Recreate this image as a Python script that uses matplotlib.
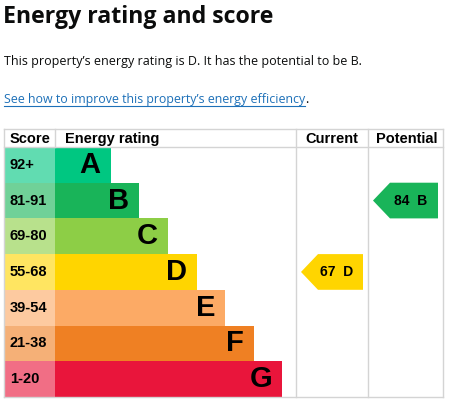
import matplotlib
matplotlib.use("Agg")
import matplotlib.pyplot as plt
from matplotlib.patches import Polygon
from matplotlib.colors import to_rgb

bands = ["A", "B", "C", "D", "E", "F", "G"]
score_labels = ["92+", "81-91", "69-80", "55-68", "39-54", "21-38", "1-20"]
band_low = [92, 81, 69, 55, 39, 21, 1]
band_colors = ["#00c781", "#19b459", "#8dce46", "#ffd500",
               "#fcaa65", "#ef8023", "#e9153b"]
headers = ["Score", "Energy rating", "Current", "Potential"]
current_score = 67
potential_score = 84

title = "Energy rating and score"
summary = "This property\u2019s energy rating is D. It has the potential to be B."
link_text = "See how to improve this property\u2019s energy efficiency"

W, H = 449, 405
table_left, table_right = 4, 443
table_top, header_bottom = 129, 147
row_h = 35.7
score_right = 55
current_left, potential_left = 296, 368
bar_min, bar_step = 55.7, 28.6
grid = "#d4d4d4"
table_font = "Liberation Sans"
text_font = "Open Sans"


def tint(c, a=0.62):
    r, g, b = to_rgb(c)
    return (1 - a + a * r, 1 - a + a * g, 1 - a + a * b)


def band_of(score):
    for i, lo in enumerate(band_low):
        if score >= lo:
            return i
    return len(bands) - 1


def arrow(ax, col_left, col_right, score):
    i = band_of(score)
    top = header_bottom + i * row_h
    bot = top + row_h
    yc = top + row_h / 2
    tip = col_left + 5
    right = col_right - 5
    pts = [(tip, yc), (tip + 17, top), (right, top), (right, bot), (tip + 17, bot)]
    ax.add_patch(Polygon(pts, closed=True, color=band_colors[i], lw=0))
    ax.text((tip + right) / 2 + 5, yc, f"{score}  {bands[i]}", ha="center",
            va="center", fontsize=10, fontweight="bold", family=table_font)


def main():
    fig = plt.figure(figsize=(W / 100, H / 100), dpi=100)
    ax = fig.add_axes([0, 0, 1, 1])
    ax.set_xlim(0, W)
    ax.set_ylim(H, 0)
    ax.axis("off")

    ax.text(3, 23, title, fontsize=16.7, fontweight="bold", family=text_font,
            va="baseline", color="#0b0c0c")
    ax.text(4, 65, summary, fontsize=9.0, family=text_font, va="baseline",
            color="#0b0c0c")
    link = ax.text(4, 103, link_text, fontsize=8.9, family=text_font,
                   va="baseline", color="#1d70b8")
    fig.canvas.draw()
    bb = link.get_window_extent().transformed(ax.transData.inverted())
    x_end = bb.x1
    ax.plot([4, x_end], [106, 106], color="#1d70b8", lw=0.8)
    ax.text(x_end, 103, ".", fontsize=8.9, family=text_font, va="baseline")

    # score column + bars
    rows = [header_bottom + row_h * (i + 0.5) for i in range(len(bands))]
    widths = [bar_min + bar_step * i for i in range(len(bands))]
    ax.barh(rows, [score_right - table_left] * len(bands), height=row_h,
            left=table_left, color=[tint(c) for c in band_colors], lw=0)
    ax.barh(rows, widths, height=row_h, left=score_right,
            color=band_colors, lw=0)
    for y, w, b, s in zip(rows, widths, bands, score_labels):
        ax.text(10, y, s, fontsize=10.5, fontweight="bold", family=table_font,
                va="center")
        ax.text(score_right + w - 10, y, b, fontsize=21, fontweight="bold",
                family=table_font, va="center", ha="right")

    # grid lines
    bottom = header_bottom + row_h * len(bands)
    for y in (table_top, header_bottom, bottom):
        ax.plot([table_left, table_right], [y, y], color=grid, lw=1)
    for x in (table_left, current_left, potential_left, table_right):
        ax.plot([x, x], [table_top, bottom], color=grid, lw=1)
    ax.plot([score_right, score_right], [table_top, header_bottom], color=grid, lw=1)

    # headers
    hy = 143
    ax.text(10, hy, headers[0], fontsize=10.5, fontweight="bold",
            family=table_font, va="baseline")
    ax.text(65, hy, headers[1], fontsize=10.5, fontweight="bold",
            family=table_font, va="baseline")
    ax.text((current_left + potential_left) / 2, hy, headers[2], fontsize=10.5,
            fontweight="bold", family=table_font, va="baseline", ha="center")
    ax.text((potential_left + table_right) / 2 + 1.5, hy, headers[3],
            fontsize=10.5, fontweight="bold", family=table_font,
            va="baseline", ha="center")

    arrow(ax, current_left, potential_left, current_score)
    arrow(ax, potential_left, table_right, potential_score)

    fig.savefig("out.png", dpi=100)


if __name__ == "__main__":
    main()
